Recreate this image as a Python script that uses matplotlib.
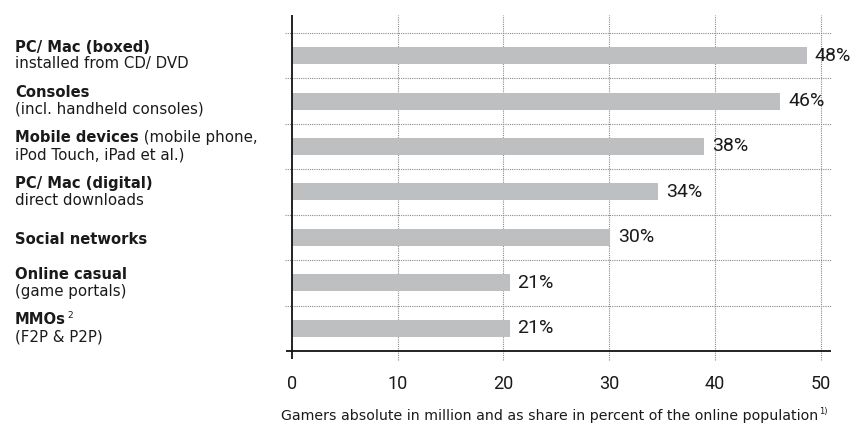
import matplotlib
matplotlib.use("Agg")
import matplotlib.pyplot as plt
from matplotlib.transforms import blended_transform_factory, IdentityTransform

# ---- data ----
cat_bold = ["PC/ Mac (boxed)", "Consoles", "Mobile devices", "PC/ Mac (digital)",
            "Social networks", "Online casual", "MMOs"]
cat_inline = ["", "", " (mobile phone,", "", "", "", ""]
cat_second = ["installed from CD/ DVD", "(incl. handheld consoles)", "iPod Touch, iPad et al.)",
              "direct downloads", "", "(game portals)", "(F2P & P2P)"]
cat_sup = ["", "", "", "", "", "", "2"]
gamers_million = [48.7, 46.2, 39.0, 34.6, 30.1, 20.6, 20.6]
share_labels = ["48%", "46%", "38%", "34%", "30%", "21%", "21%"]
xticks = [0, 10, 20, 30, 40, 50]
xlabel = "Gamers absolute in million and as share in percent of the online population"
xlabel_sup = "1)"

NUMFONT = "Roboto"
LABFONT = "DejaVu Sans"
TXT = "#1a1a1a"
BAR = "#bebfc1"
GRID = "#8a8a8a"

W, H = 859, 424
fig = plt.figure(figsize=(W / 100, H / 100), dpi=100)
ax_l, ax_r, ax_t, ax_b = 291.7, 831, 15, 351
ax = fig.add_axes([ax_l / W, 1 - ax_b / H, (ax_r - ax_l) / W, (ax_b - ax_t) / H])
px_per_unit_y = 45.45
px_per_unit_x = 10.58
ax.set_xlim(0, (ax_r - ax_l) / px_per_unit_x)
ax.set_ylim(6.5, 6.5 - (ax_b - ax_t) / px_per_unit_y)

ypos = list(range(len(gamers_million)))
ax.barh(ypos, gamers_million, height=17 / px_per_unit_y, color=BAR, zorder=2)

for y, v, lab in zip(ypos, gamers_million, share_labels):
    ax.text(v + 0.75, y, lab, va="center", ha="left", fontsize=14, family=NUMFONT,
            color=TXT, zorder=3)

for s in ax.spines.values():
    s.set_visible(False)

dot = (0, (1, 1))
# horizontal dotted separators
for y in [-0.5, 0.5, 1.5, 2.5, 3.5, 4.5, 5.5]:
    ax.plot([-7 / px_per_unit_x, ax.get_xlim()[1]], [y, y], color=GRID, lw=0.8,
            ls=dot, clip_on=False, zorder=1)
# vertical dotted grid
xt = ax.get_xaxis_transform()
for x in xticks[1:]:
    ax.plot([x, x], [-9 / (ax_b - ax_t), 1.0], transform=xt, color=GRID, lw=0.8,
            ls=dot, clip_on=False, zorder=1)
# axis lines
ax.plot([0, 0], [-8 / (ax_b - ax_t), 1.0], transform=xt, color="#111111", lw=1.3,
        clip_on=False, zorder=4, solid_capstyle="butt")
ax.plot([-6 / px_per_unit_x, ax.get_xlim()[1]], [0, 0], transform=xt, color="#111111",
        lw=1.3, clip_on=False, zorder=4, solid_capstyle="butt")

ax.set_xticks(xticks)
ax.set_xticklabels([str(t) for t in xticks], fontsize=13, family=NUMFONT, color=TXT)
ax.tick_params(axis="x", length=0, pad=17)
ax.set_yticks([])

# ---- left category labels ----
fig.canvas.draw()
renderer = fig.canvas.get_renderer()
tr_fig = blended_transform_factory(fig.transFigure, ax.transData)
tr_px = blended_transform_factory(IdentityTransform(), ax.transData)
x0 = 15 / W
LSB = 10.6
LSR = 10.8
for y, b, inl, sec, sup in zip(ypos, cat_bold, cat_inline, cat_second, cat_sup):
    if sec:
        y1, y2 = y - 4 / px_per_unit_y, y + 12.8 / px_per_unit_y
    else:
        y1, y2 = y + 6.5 / px_per_unit_y, None
    t = fig.text(x0, y1, b, transform=tr_fig, fontsize=LSB, family=LABFONT, weight="bold",
                 color=TXT, va="baseline", ha="left")
    bb = t.get_window_extent(renderer)
    if inl:
        fig.text(bb.x1, y1, inl, transform=tr_px, fontsize=LSR, family=LABFONT,
                 color=TXT, va="baseline", ha="left")
    if sup:
        fig.text(bb.x1 + 1, y1 - 6 / px_per_unit_y, sup, transform=tr_px, fontsize=6.5,
                 family=LABFONT, color=TXT, va="baseline", ha="left")
    if sec:
        fig.text(x0, y2, sec, transform=tr_fig, fontsize=LSR, family=LABFONT, color=TXT,
                 va="baseline", ha="left")

# ---- bottom label ----
xl = fig.text(281, H - 420, xlabel, transform=IdentityTransform(), fontsize=10.2,
              family=LABFONT, color=TXT, va="baseline", ha="left")
bb = xl.get_window_extent(renderer)
fig.text(bb.x1 + 1, H - 414, xlabel_sup, transform=IdentityTransform(), fontsize=6,
         family=LABFONT, color=TXT, va="baseline", ha="left")

fig.savefig("out.png", dpi=100)
